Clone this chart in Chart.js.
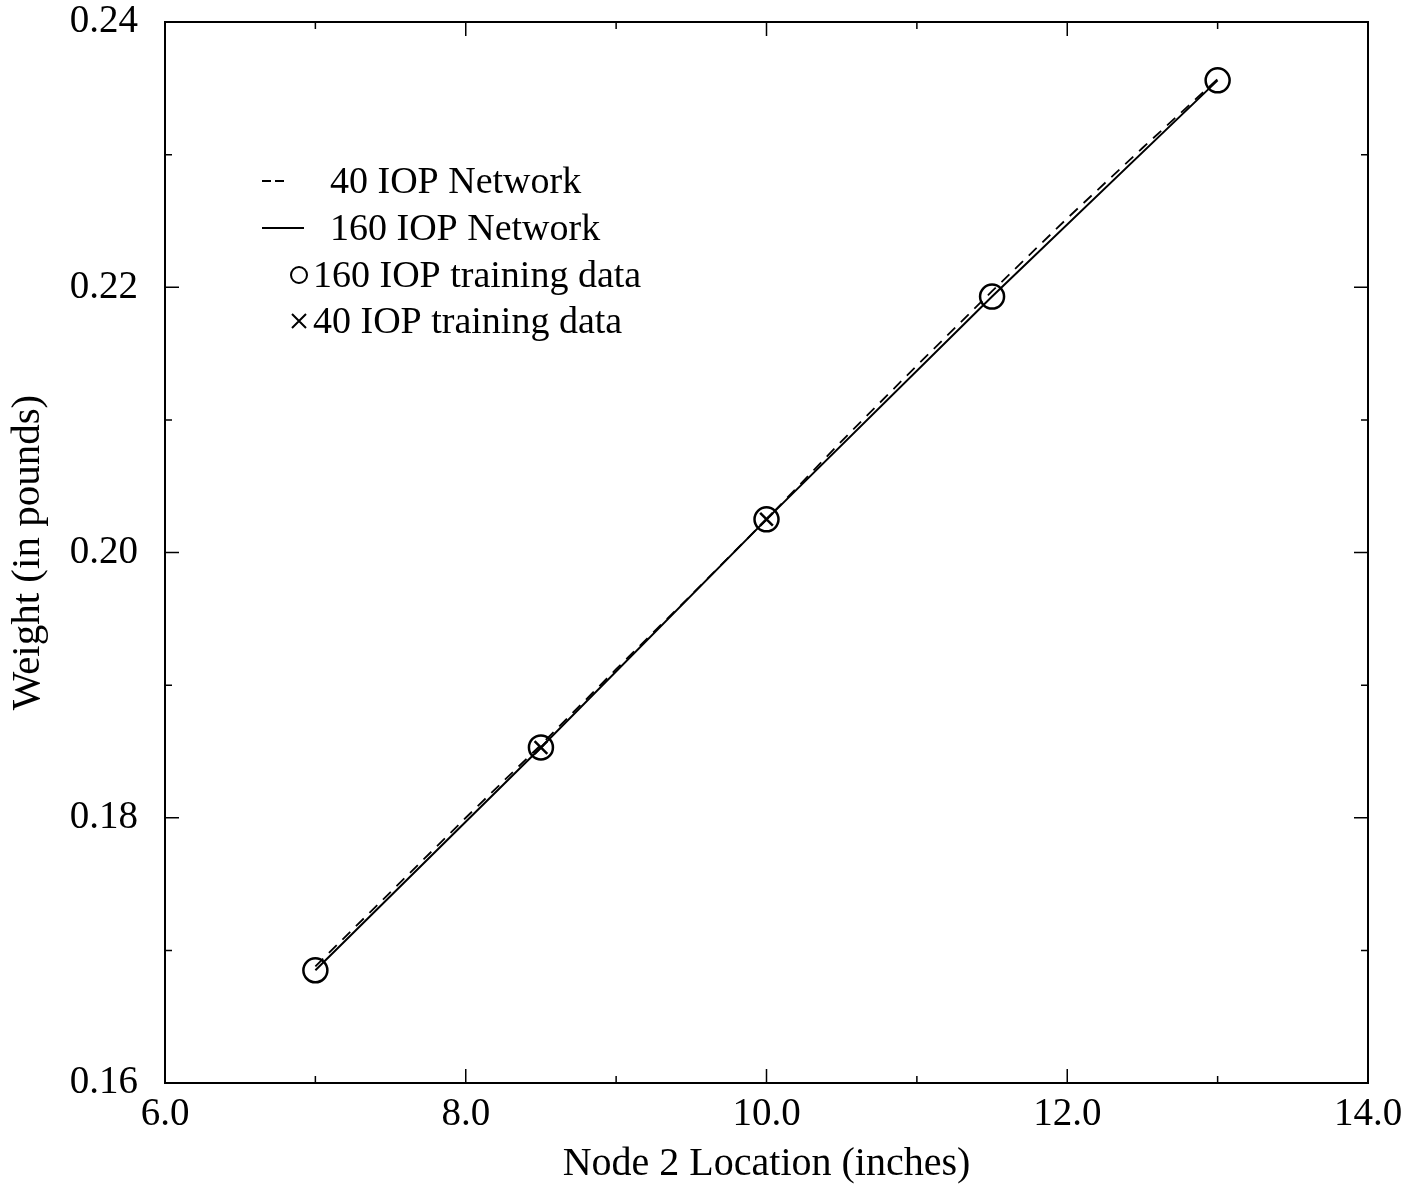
<!DOCTYPE html>
<html lang="en">
<head>
<meta charset="UTF-8">
<title>Weight vs Node 2 Location</title>
<style>
  body { margin: 0; background: #fff; }
  #wrap { width: 1423px; height: 1194px; }
</style>
<script src="https://cdn.jsdelivr.net/npm/chart.js"></script>
</head>
<body>
<div id="wrap"><canvas id="weightChart" width="1423" height="1194"></canvas></div>
<script>
// node 2 location (inches) where the training data sits
const trainX160 = [7.0, 8.5, 10.0, 11.5, 13.0];
const trainY160 = [0.1685, 0.1853, 0.2025, 0.2193, 0.2356];
const trainX40 = [8.5, 10.0];
const trainY40 = [0.1853, 0.2025];

// network outputs
const netX160 = [7.0, 8.5, 10.0, 11.5, 13.0];
const netY160 = [0.1685, 0.1853, 0.2025, 0.2193, 0.2356];
const netX40 = [7.0, 7.5, 8.0, 8.5, 9.0, 9.5, 10.0, 10.5, 11.0, 11.5, 12.0, 12.5, 13.0];
const netY40 = [0.1688, 0.1744, 0.1800, 0.1855, 0.1912, 0.1968, 0.2025, 0.2084, 0.2141, 0.2197, 0.2252, 0.2305, 0.2357];

const xMajor = [6, 8, 10, 12, 14];
const yMajor = [0.16, 0.18, 0.20, 0.22, 0.24];

const serif = "'Liberation Serif', 'DejaVu Serif', serif";
const pts = (xs, ys) => xs.map((x, i) => ({ x: x, y: ys[i] }));

// inward ticks on all four sides + frame
const frameTicks = {
    id: 'frameTicks',
    afterDraw(chart) {
        const { ctx, chartArea: a, scales } = chart;
        ctx.save();
        ctx.strokeStyle = '#000';
        ctx.lineWidth = 2;
        ctx.strokeRect(a.left, a.top, a.right - a.left, a.bottom - a.top);
        ctx.lineWidth = 1.5;
        for (let v = 6; v <= 14.001; v += 1) {
            const px = scales.x.getPixelForValue(v);
            const len = xMajor.some(m => Math.abs(m - v) < 1e-6) ? 14 : 7;
            ctx.beginPath();
            ctx.moveTo(px, a.bottom); ctx.lineTo(px, a.bottom - len);
            ctx.moveTo(px, a.top); ctx.lineTo(px, a.top + len);
            ctx.stroke();
        }
        for (let i = 0; i <= 8; i++) {
            const v = 0.16 + i * 0.01;
            const py = scales.y.getPixelForValue(v);
            const len = i % 2 === 0 ? 14 : 7;
            ctx.beginPath();
            ctx.moveTo(a.left, py); ctx.lineTo(a.left + len, py);
            ctx.moveTo(a.right, py); ctx.lineTo(a.right - len, py);
            ctx.stroke();
        }
        ctx.restore();
    }
};

// legend inside the plot, upper left
const plotLegend = {
    id: 'plotLegend',
    afterDraw(chart) {
        const ctx = chart.ctx;
        const ds = chart.data.datasets;
        const rows = [181, 228, 275, 321];
        ctx.save();
        ctx.font = '38px ' + serif;
        ctx.fillStyle = '#000';
        ctx.textBaseline = 'middle';
        ctx.strokeStyle = '#000';
        ds.forEach((d, i) => {
            const y = rows[i];
            ctx.lineWidth = 2;
            ctx.beginPath();
            if (d.showLine !== false) {
                if (d.borderDash) {
                    ctx.setLineDash([9, 4]);
                    ctx.moveTo(262, y); ctx.lineTo(284, y);
                } else {
                    ctx.moveTo(262, y); ctx.lineTo(304, y);
                }
                ctx.stroke();
                ctx.setLineDash([]);
                ctx.fillText(d.label, 330, y + 2);
            } else {
                if (d.pointStyle === 'circle') {
                    ctx.arc(299, y, 8, 0, Math.PI * 2);
                } else {
                    ctx.moveTo(292, y - 7); ctx.lineTo(306, y + 7);
                    ctx.moveTo(306, y - 7); ctx.lineTo(292, y + 7);
                }
                ctx.stroke();
                ctx.fillText(d.label, 313, y + 2);
            }
        });
        ctx.restore();
    }
};

new Chart(document.getElementById('weightChart'), {
    type: 'scatter',
    data: {
        datasets: [
            {
                label: '40 IOP Network',
                data: pts(netX40, netY40),
                showLine: true,
                borderColor: '#000',
                borderWidth: 1.8,
                borderDash: [11, 8],
                pointRadius: 0
            },
            {
                label: '160 IOP Network',
                data: pts(netX160, netY160),
                showLine: true,
                borderColor: '#000',
                borderWidth: 2,
                pointRadius: 0
            },
            {
                label: '160 IOP training data',
                data: pts(trainX160, trainY160),
                showLine: false,
                pointStyle: 'circle',
                pointRadius: 12,
                pointBorderWidth: 2.5,
                pointBorderColor: '#000',
                pointBackgroundColor: 'rgba(0,0,0,0)'
            },
            {
                label: '40 IOP training data',
                data: pts(trainX40, trainY40),
                showLine: false,
                pointStyle: 'crossRot',
                pointRadius: 9,
                pointBorderWidth: 2.5,
                pointBorderColor: '#000'
            }
        ]
    },
    options: {
        responsive: false,
        devicePixelRatio: 1,
        animation: false,
        layout: { padding: { top: 22, right: 55, left: 0, bottom: 0 } },
        plugins: { legend: { display: false }, tooltip: { enabled: false } },
        scales: {
            x: {
                type: 'linear',
                min: 6, max: 14,
                afterFit(scale) { scale.height = 111; },
                afterBuildTicks(scale) { scale.ticks = xMajor.map(v => ({ value: v })); },
                ticks: {
                    callback: v => v.toFixed(1),
                    font: { family: serif, size: 39 },
                    color: '#000',
                    padding: 8,
                    maxRotation: 0
                },
                grid: { display: false, drawTicks: false },
                border: { display: false },
                title: {
                    display: true,
                    text: 'Node 2 Location (inches)',
                    font: { family: serif, size: 40 },
                    color: '#000',
                    padding: { top: 0, bottom: 6 }
                }
            },
            y: {
                type: 'linear',
                min: 0.16, max: 0.24,
                afterFit(scale) {
                    scale.width = 165;
                    scale.paddingTop = 0;
                    scale.paddingBottom = 0;
                },
                afterBuildTicks(scale) { scale.ticks = yMajor.map(v => ({ value: v })); },
                ticks: {
                    callback: v => v.toFixed(2),
                    font: { family: serif, size: 39 },
                    color: '#000',
                    padding: 27
                },
                grid: { display: false, drawTicks: false },
                border: { display: false },
                title: {
                    display: true,
                    text: 'Weight (in pounds)',
                    font: { family: serif, size: 41 },
                    color: '#000',
                    padding: { top: 4, bottom: 0 }
                }
            }
        }
    },
    plugins: [frameTicks, plotLegend]
});
</script>
</body>
</html>
